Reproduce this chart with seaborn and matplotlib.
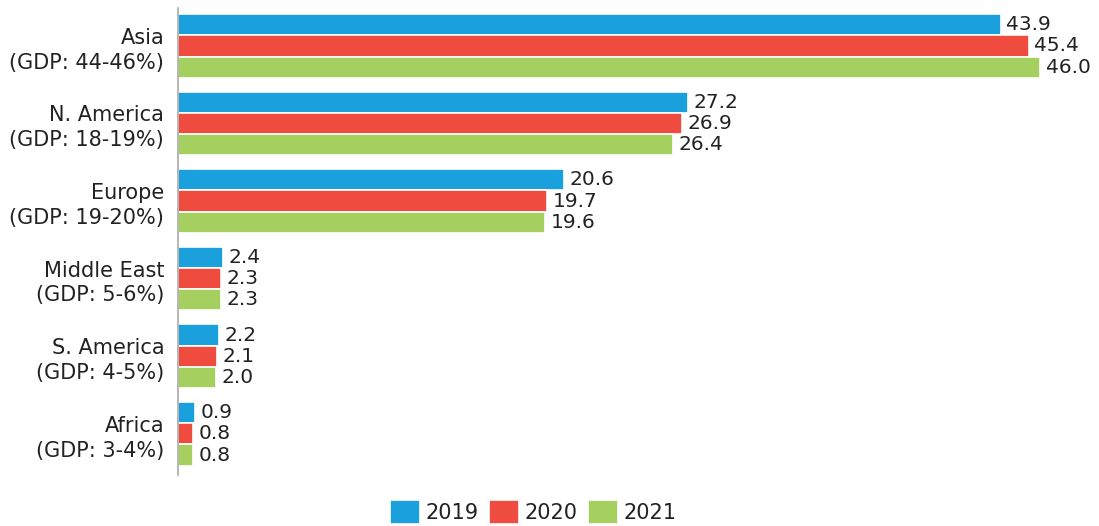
import pandas as pd
import matplotlib
matplotlib.use('Agg')
import matplotlib.pyplot as plt
import seaborn as sns

regions = [
    "Asia\n(GDP: 44-46%)"
    , "N. America\n(GDP: 18-19%)"
    , "Europe\n(GDP: 19-20%)"
    , "Middle East\n(GDP: 5-6%)"
    , "S. America\n(GDP: 4-5%)"
    , "Africa\n(GDP: 3-4%)"
]
years = ["2019", "2020", "2021"]
v2019 = [43.9, 27.2, 20.6, 2.4, 2.2, 0.9]
v2020 = [45.4, 26.9, 19.7, 2.3, 2.1, 0.8]
v2021 = [46.0, 26.4, 19.6, 2.3, 2.0, 0.8]
colors = ["#1aa0dc", "#f04b3f", "#a5cf5f"]

rows = []
for yr, vals in zip(years, [v2019, v2020, v2021]):
    for reg, v in zip(regions, vals):
        rows.append({"region": reg, "year": yr, "value": v})
df = pd.DataFrame(rows)

sns.set_theme(style="white")
plt.rcParams['font.family'] = ['DejaVu Sans']

fig = plt.figure(figsize=(10.99, 5.26), dpi=100)
ax = fig.add_axes([0.162, 0.097, 0.827, 0.888])

sns.barplot(
    data=df, y="region", x="value", hue="year", order=regions, hue_order=years
    , palette=colors, width=0.82, orient="h", edgecolor="white", linewidth=1.2
    , saturation=1, ax=ax
)

for cont in ax.containers:
    ax.bar_label(cont, fmt="%.1f", padding=4, fontsize=14.5, color="#222222")

ax.set_xlim(0, 48.5)
ax.set_ylim(5.53, -0.49)
ax.set_xlabel("")
ax.set_ylabel("")
ax.set_xticks([])
ax.tick_params(axis="y", length=0, labelsize=15, labelcolor="#222222", pad=10)
for lbl in ax.get_yticklabels():
    lbl.set_horizontalalignment("right")
    lbl.set_multialignment("right")
    lbl.set_linespacing(1.3)
for s in ["top", "right", "bottom"]:
    ax.spines[s].set_visible(False)
ax.spines["left"].set_color("#aaaaaa")
ax.spines["left"].set_linewidth(1.2)

ax.legend(
    loc="center", bbox_to_anchor=(533 / 1099, 14 / 526), bbox_transform=fig.transFigure
    , ncol=3, frameon=False, fontsize=15, handlelength=1.45, handleheight=1.35
    , handletextpad=0.25, columnspacing=0.5, labelcolor="#222222"
)

fig.savefig("out.png", dpi=100)
plt.close(fig)
